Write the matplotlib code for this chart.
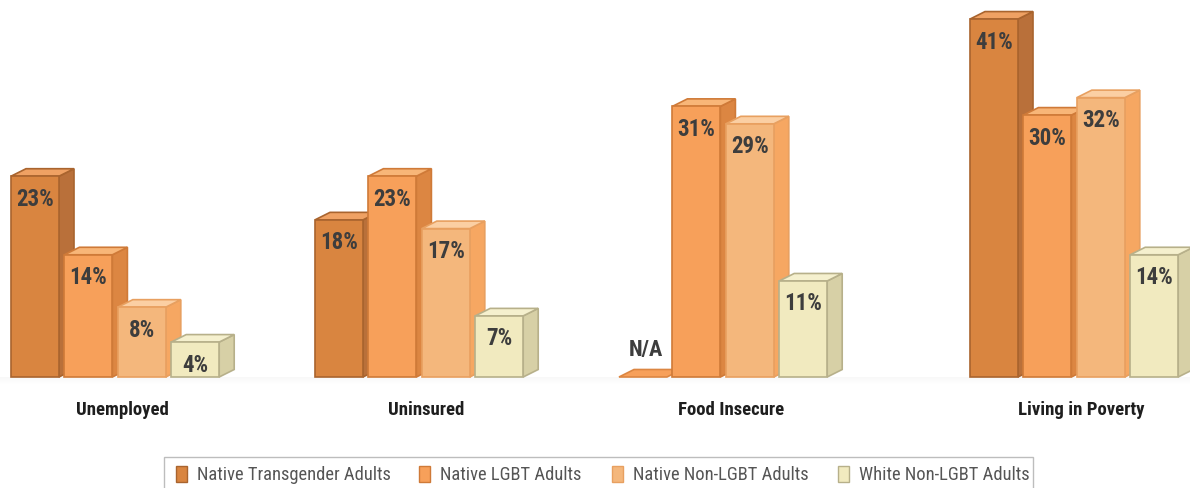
import matplotlib
matplotlib.use("Agg")
import matplotlib.pyplot as plt
from matplotlib.patches import Polygon, Rectangle
import numpy as np

categories = ["Unemployed", "Uninsured", "Food Insecure", "Living in Poverty"]
series_names = ["Native Transgender Adults", "Native LGBT Adults",
                "Native Non-LGBT Adults", "White Non-LGBT Adults"]
transgender = [23, 18, None, 41]
lgbt = [14, 23, 31, 30]
non_lgbt = [8, 17, 29, 32]
white_non_lgbt = [4, 7, 11, 14]
series_values = [transgender, lgbt, non_lgbt, white_non_lgbt]

front_colors = ["#D98540", "#F7A05A", "#F4B77C", "#F1EABF"]
side_colors = ["#B9703A", "#DC8642", "#F6A762", "#D7D0A6"]
top_colors = ["#EFA163", "#F8B678", "#FBCFA3", "#F5F0CE"]
edge_colors = ["#A9642E", "#CF7A38", "#E8A060", "#B7B08A"]

W, H = 1190, 489
k = 8.73           # pixels per percentage point
base_px = 378
fig = plt.figure(figsize=(W / 100, H / 100), dpi=100)
ax = fig.add_axes([0, 0, 1, 1])
ax.set_xlim(0, W)
ax.set_ylim(-(H - base_px) / k, base_px / k)
ax.axis("off")

group_starts = [11, 315, 619, 970]
pitch = 53.4
bw = 48
dx = 15
dy = 7.5 / k

FONT = ["Liberation Sans Narrow", "Roboto Condensed", "DejaVu Sans"]

# soft shadow under baseline
for i, a in enumerate(np.linspace(0.05, 0.0, 8)):
    ax.add_patch(Rectangle((0, -(i + 1) * 1.0 / k), W, 1.0 / k, color="#888888",
                           alpha=a, lw=0, zorder=0))

for g, start in enumerate(group_starts):
    for s, vals in enumerate(series_values):
        v = vals[g]
        x0 = start + s * pitch
        x1 = x0 + bw
        ec = edge_colors[s]
        if v is None:
            ax.add_patch(Polygon([(x0, 0), (x0 + dx, dy), (x1 + dx, dy), (x1, 0)],
                                 closed=True, fc=front_colors[1], ec=side_colors[1],
                                 lw=1.2, zorder=3))
            ax.text(x0 + bw / 2 + 3, 28 / k, "N/A", ha="center", va="center",
                    fontsize=16, fontweight="bold", color="#3D3D3D", family=FONT,
                    zorder=5)
            continue
        ax.add_patch(Polygon([(x1, 0), (x1 + dx, dy), (x1 + dx, v + dy), (x1, v)],
                             closed=True, fc=side_colors[s], ec=ec, lw=1.2, zorder=3))
        ax.add_patch(Polygon([(x0, v), (x0 + dx, v + dy), (x1 + dx, v + dy), (x1, v)],
                             closed=True, fc=top_colors[s], ec=ec, lw=1.2, zorder=3))
        ax.add_patch(Rectangle((x0, 0), bw, v, fc=front_colors[s], ec=ec, lw=1.2,
                               zorder=4))
        ax.text(x0 + bw / 2, v - 22 / k, f"{v}%", ha="center", va="center",
                fontsize=16.5, fontweight="bold", color="#3D3D3D", family=FONT,
                zorder=5)
    gx = start + (3 * pitch + bw + dx) / 2
    ax.text(gx, -32 / k, categories[g], ha="center", va="center", fontsize=13.5,
            fontweight="bold", color="#1E1E1E", family=FONT)

# legend box
lx0, lx1 = 164, 1033
ly_top = 458
ax.add_patch(Rectangle((lx0, -(H + 5 - base_px) / k), lx1 - lx0,
                       (H + 5 - ly_top) / k, fc="white", ec="#BDBDBD", lw=1.0,
                       zorder=2, clip_on=False))
leg_x = [176, 419, 612, 838]
ly = -(475 - base_px) / k
for s, name in enumerate(series_names):
    ax.add_patch(Rectangle((leg_x[s], ly - 8 / k), 11, 16 / k, fc=front_colors[s],
                           ec=edge_colors[s], lw=1.0, zorder=3))
    ax.text(leg_x[s] + 21, ly, name, ha="left", va="center", fontsize=13.3,
            color="#555555", family=FONT)

fig.savefig("out.png", dpi=100)
